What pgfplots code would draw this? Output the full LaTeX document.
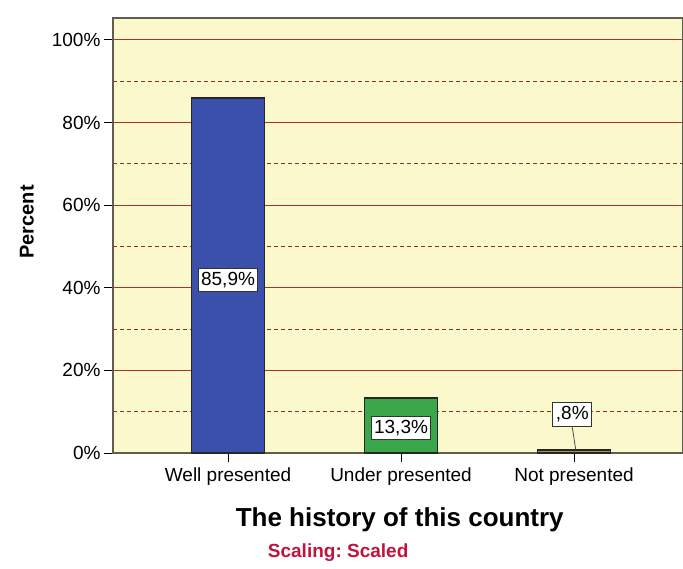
\documentclass[border=0pt]{standalone}
\usepackage{pgfplots}
\pgfplotsset{compat=1.18}
\usepackage{fontspec}
\setmainfont{Liberation Sans}
\frenchspacing

\definecolor{bgyellow}{RGB}{251,248,204}
\definecolor{barblue}{RGB}{58,80,170}
\definecolor{bargreen}{RGB}{58,168,74}
\definecolor{bartan}{RGB}{160,148,90}
\definecolor{gridmaj}{RGB}{168,52,40}
\definecolor{gridmin}{RGB}{140,45,35}
\definecolor{scalered}{RGB}{192,20,60}

\begin{document}
\begin{tikzpicture}
\useasboundingbox (0,0) rectangle (683pt,568pt);
\begin{axis}[
    at={(113pt,115pt)}, anchor=south west,
    scale only axis,
    width=570pt, height=435pt,
    xmin=-0.665, xmax=2.63,
    ymin=0, ymax=105.3,
    axis background/.style={fill=bgyellow},
    axis line style={draw={rgb,255:red,95;green,92;blue,80}, line width=1.6pt},
    xtick={0,1,2},
    xticklabels={Well presented, Under presented, Not presented},
    ytick={0,20,40,60,80,100},
    minor ytick={10,30,50,70,90},
    yticklabel={\pgfmathprintnumber{\tick}\%},
    /pgf/number format/assume math mode=true,
    ticklabel style={font=\fontsize{19}{22}\selectfont},
    xticklabel style={yshift=-2pt},
    tick style={black, line width=1pt},
    major tick length=9pt, minor tick length=0pt,
    tick align=outside,
    xtick pos=bottom, ytick pos=left,
    ymajorgrids, yminorgrids,
    major grid style={gridmaj, line width=1.1pt, solid},
    minor grid style={gridmin, line width=0.9pt, dash pattern=on 4pt off 3pt},
    xlabel={The history of this country},
    xlabel style={font=\bfseries\fontsize{26}{30}\selectfont, at={(axis description cs:0.503,-0.154)}, anchor=center},
    ylabel={Percent},
    ylabel style={font=\bfseries\fontsize{20}{24}\selectfont, at={(axis description cs:-0.151,0.531)}, anchor=center, rotate=0},
    clip=false,
]
\addplot[ybar, bar width=73pt, bar shift=0pt, fill=barblue, draw=black!85, line width=1.8pt]
    coordinates {(0,85.9)};
\addplot[ybar, bar width=73pt, bar shift=0pt, fill=bargreen, draw=black!85, line width=1.8pt]
    coordinates {(1,13.3)};
\addplot[ybar, bar width=73pt, bar shift=0pt, fill=bartan, draw=black!85, line width=1.8pt]
    coordinates {(2,0.8)};
% leader line for the small label
\addplot[black!70, line width=0.8pt] coordinates {(1.99,6.2) (2.01,0.8)};
% value labels
\addplot[only marks, mark=none, point meta=explicit symbolic,
    nodes near coords, nodes near coords align=center,
    every node near coord/.append style={font=\fontsize{19}{22}\selectfont,
        fill=white, draw=black!80, line width=1pt, inner xsep=3pt, inner ysep=4pt, anchor=center}]
    coordinates {(0,41.9) [85,9\%] (1,6.05) [13,3\%] (1.99,9.4) [,8\%]};
\node[font=\bfseries\fontsize{19}{22}\selectfont, text=scalered]
    at (axis description cs:0.395,-0.228) {Scaling: Scaled};
\end{axis}
\end{tikzpicture}
\end{document}
